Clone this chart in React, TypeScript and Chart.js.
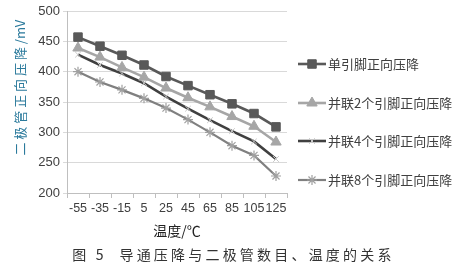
import React, { useEffect, useRef } from "react";
import { Chart, registerables } from "chart.js";
import { drawPoint } from "chart.js/helpers";

Chart.register(...registerables);

const temperatures = ["-55", "-35", "-15", "5", "25", "45", "65", "85", "105", "125"];
const singlePin = [457, 442, 427, 411, 392, 377, 362, 347, 331, 309];
const parallel2 = [439, 424, 407, 391, 373, 357, 342, 326, 310, 284];
const parallel4 = [428, 411, 397, 381, 359, 339, 320, 302, 285, 256];
const parallel8 = [400, 383, 370, 356, 340, 321, 300, 278, 262, 228];
const seriesNames = ["单引脚正向压降", "并联2个引脚正向压降", "并联4个引脚正向压降", "并联8个引脚正向压降"];
const yMin = 200;
const yMax = 500;
const yStep = 50;
const yTitle = "二 极 管 正 向 压 降 /mV   ";
const xTitle = "温度/℃";
const caption = "图 5  导通压降与二极管数目、温度的关系";

const CJK = "'Noto Sans CJK SC', 'Noto Sans', sans-serif";

const sideLegend = {
  id: "sideLegend",
  afterDraw(chart: any) {
    const ctx = chart.ctx;
    const area = chart.chartArea;
    const x0 = area.right + 11;
    const ys = [64, 103, 141, 180];
    chart.data.datasets.forEach((ds: any, i: number) => {
      const y = ys[i];
      ctx.save();
      ctx.strokeStyle = ds.borderColor;
      ctx.lineWidth = ds.borderWidth;
      ctx.beginPath();
      ctx.moveTo(x0, y);
      ctx.lineTo(x0 + 28, y);
      ctx.stroke();
      if (ds.pointRadius > 0) {
        ctx.fillStyle = ds.pointBackgroundColor;
        ctx.strokeStyle = ds.pointBorderColor;
        ctx.lineWidth = ds.pointBorderWidth;
        drawPoint(ctx, { pointStyle: ds.pointStyle, radius: ds.pointRadius, rotation: 0, borderWidth: ds.pointBorderWidth }, x0 + 14, y);
      }
      ctx.fillStyle = "#404040";
      ctx.font = "13px " + CJK;
      ctx.textBaseline = "middle";
      ctx.textAlign = "left";
      ctx.fillText(ds.label, x0 + 30, y);
      ctx.restore();
    });
  },
};

export default function App() {
  const ref = useRef<HTMLCanvasElement>(null);
  useEffect(() => {
    const canvas = ref.current!;
    const chart = new Chart(canvas, {
      type: "line",
      data: {
        labels: temperatures,
        datasets: [
          {
            label: seriesNames[0],
            data: singlePin,
            borderColor: "#595959",
            borderWidth: 2.6,
            pointStyle: "rect",
            pointRadius: 6,
            pointBackgroundColor: "#595959",
            pointBorderColor: "#595959",
            pointBorderWidth: 1,
          },
          {
            label: seriesNames[1],
            data: parallel2,
            borderColor: "#a6a6a6",
            borderWidth: 2.6,
            pointStyle: "triangle",
            pointRadius: 6,
            pointBackgroundColor: "#a6a6a6",
            pointBorderColor: "#a6a6a6",
            pointBorderWidth: 1,
          },
          {
            label: seriesNames[2],
            data: parallel4,
            borderColor: "#404040",
            borderWidth: 2.6,
            pointStyle: "crossRot",
            pointRadius: 4,
            pointBackgroundColor: "#c8c8c8",
            pointBorderColor: "#c8c8c8",
            pointBorderWidth: 1,
          },
          {
            label: seriesNames[3],
            data: parallel8,
            borderColor: "#808080",
            borderWidth: 2.2,
            pointStyle: "star",
            pointRadius: 5,
            pointBackgroundColor: "#a0a0a0",
            pointBorderColor: "#a0a0a0",
            pointBorderWidth: 1.2,
          },
        ],
      },
      options: {
        responsive: false,
        animation: false,
        layout: { padding: { left: 0, right: 180, top: 11, bottom: 0 } },
        plugins: { legend: { display: false }, tooltip: { enabled: false } },
        elements: { line: { tension: 0 } },
        scales: {
          x: {
            offset: true,
            afterFit: (s: any) => { s.height = 52; },
            grid: { display: true, drawOnChartArea: false, drawTicks: true, tickLength: 5, offset: true, color: "#bfbfbf" },
            border: { color: "#bfbfbf", width: 1 },
            ticks: { color: "#404040", font: { size: 12.5, family: "'Liberation Sans', sans-serif" }, autoSkip: false, maxRotation: 0, padding: 3 },
            title: { display: true, text: xTitle, color: "#222", font: { size: 14, family: CJK }, padding: { top: 4, bottom: 6 } },
          },
          y: {
            min: yMin,
            max: yMax,
            afterFit: (s: any) => { s.width = 67; },
            grid: { color: "#d9d9d9", drawTicks: true, tickLength: 4 },
            border: { color: "#bfbfbf", width: 1 },
            ticks: { stepSize: yStep, color: "#404040", font: { size: 13, family: "'Liberation Sans', sans-serif" }, padding: 3 },
            title: { display: true, text: yTitle, align: "end", color: "#2b7a9c", font: { size: 13, family: CJK }, padding: { top: 12, bottom: 0 } },
          },
        },
      },
      plugins: [sideLegend],
    });
    return () => chart.destroy();
  }, []);
  return (
    <div style={{ position: "absolute", left: 0, top: 0, width: 467, height: 274, background: "#fff" }}>
      <canvas ref={ref} width={467} height={245} style={{ display: "block" }} />
      <div
        style={{
          position: "absolute",
          left: 0,
          top: 245,
          width: 467,
          textAlign: "center",
          fontFamily: CJK,
          fontSize: 14,
          letterSpacing: "3.2px",
          color: "#333",
          whiteSpace: "pre",
          lineHeight: "18px",
        }}
      >
        {caption}
      </div>
    </div>
  );
}
